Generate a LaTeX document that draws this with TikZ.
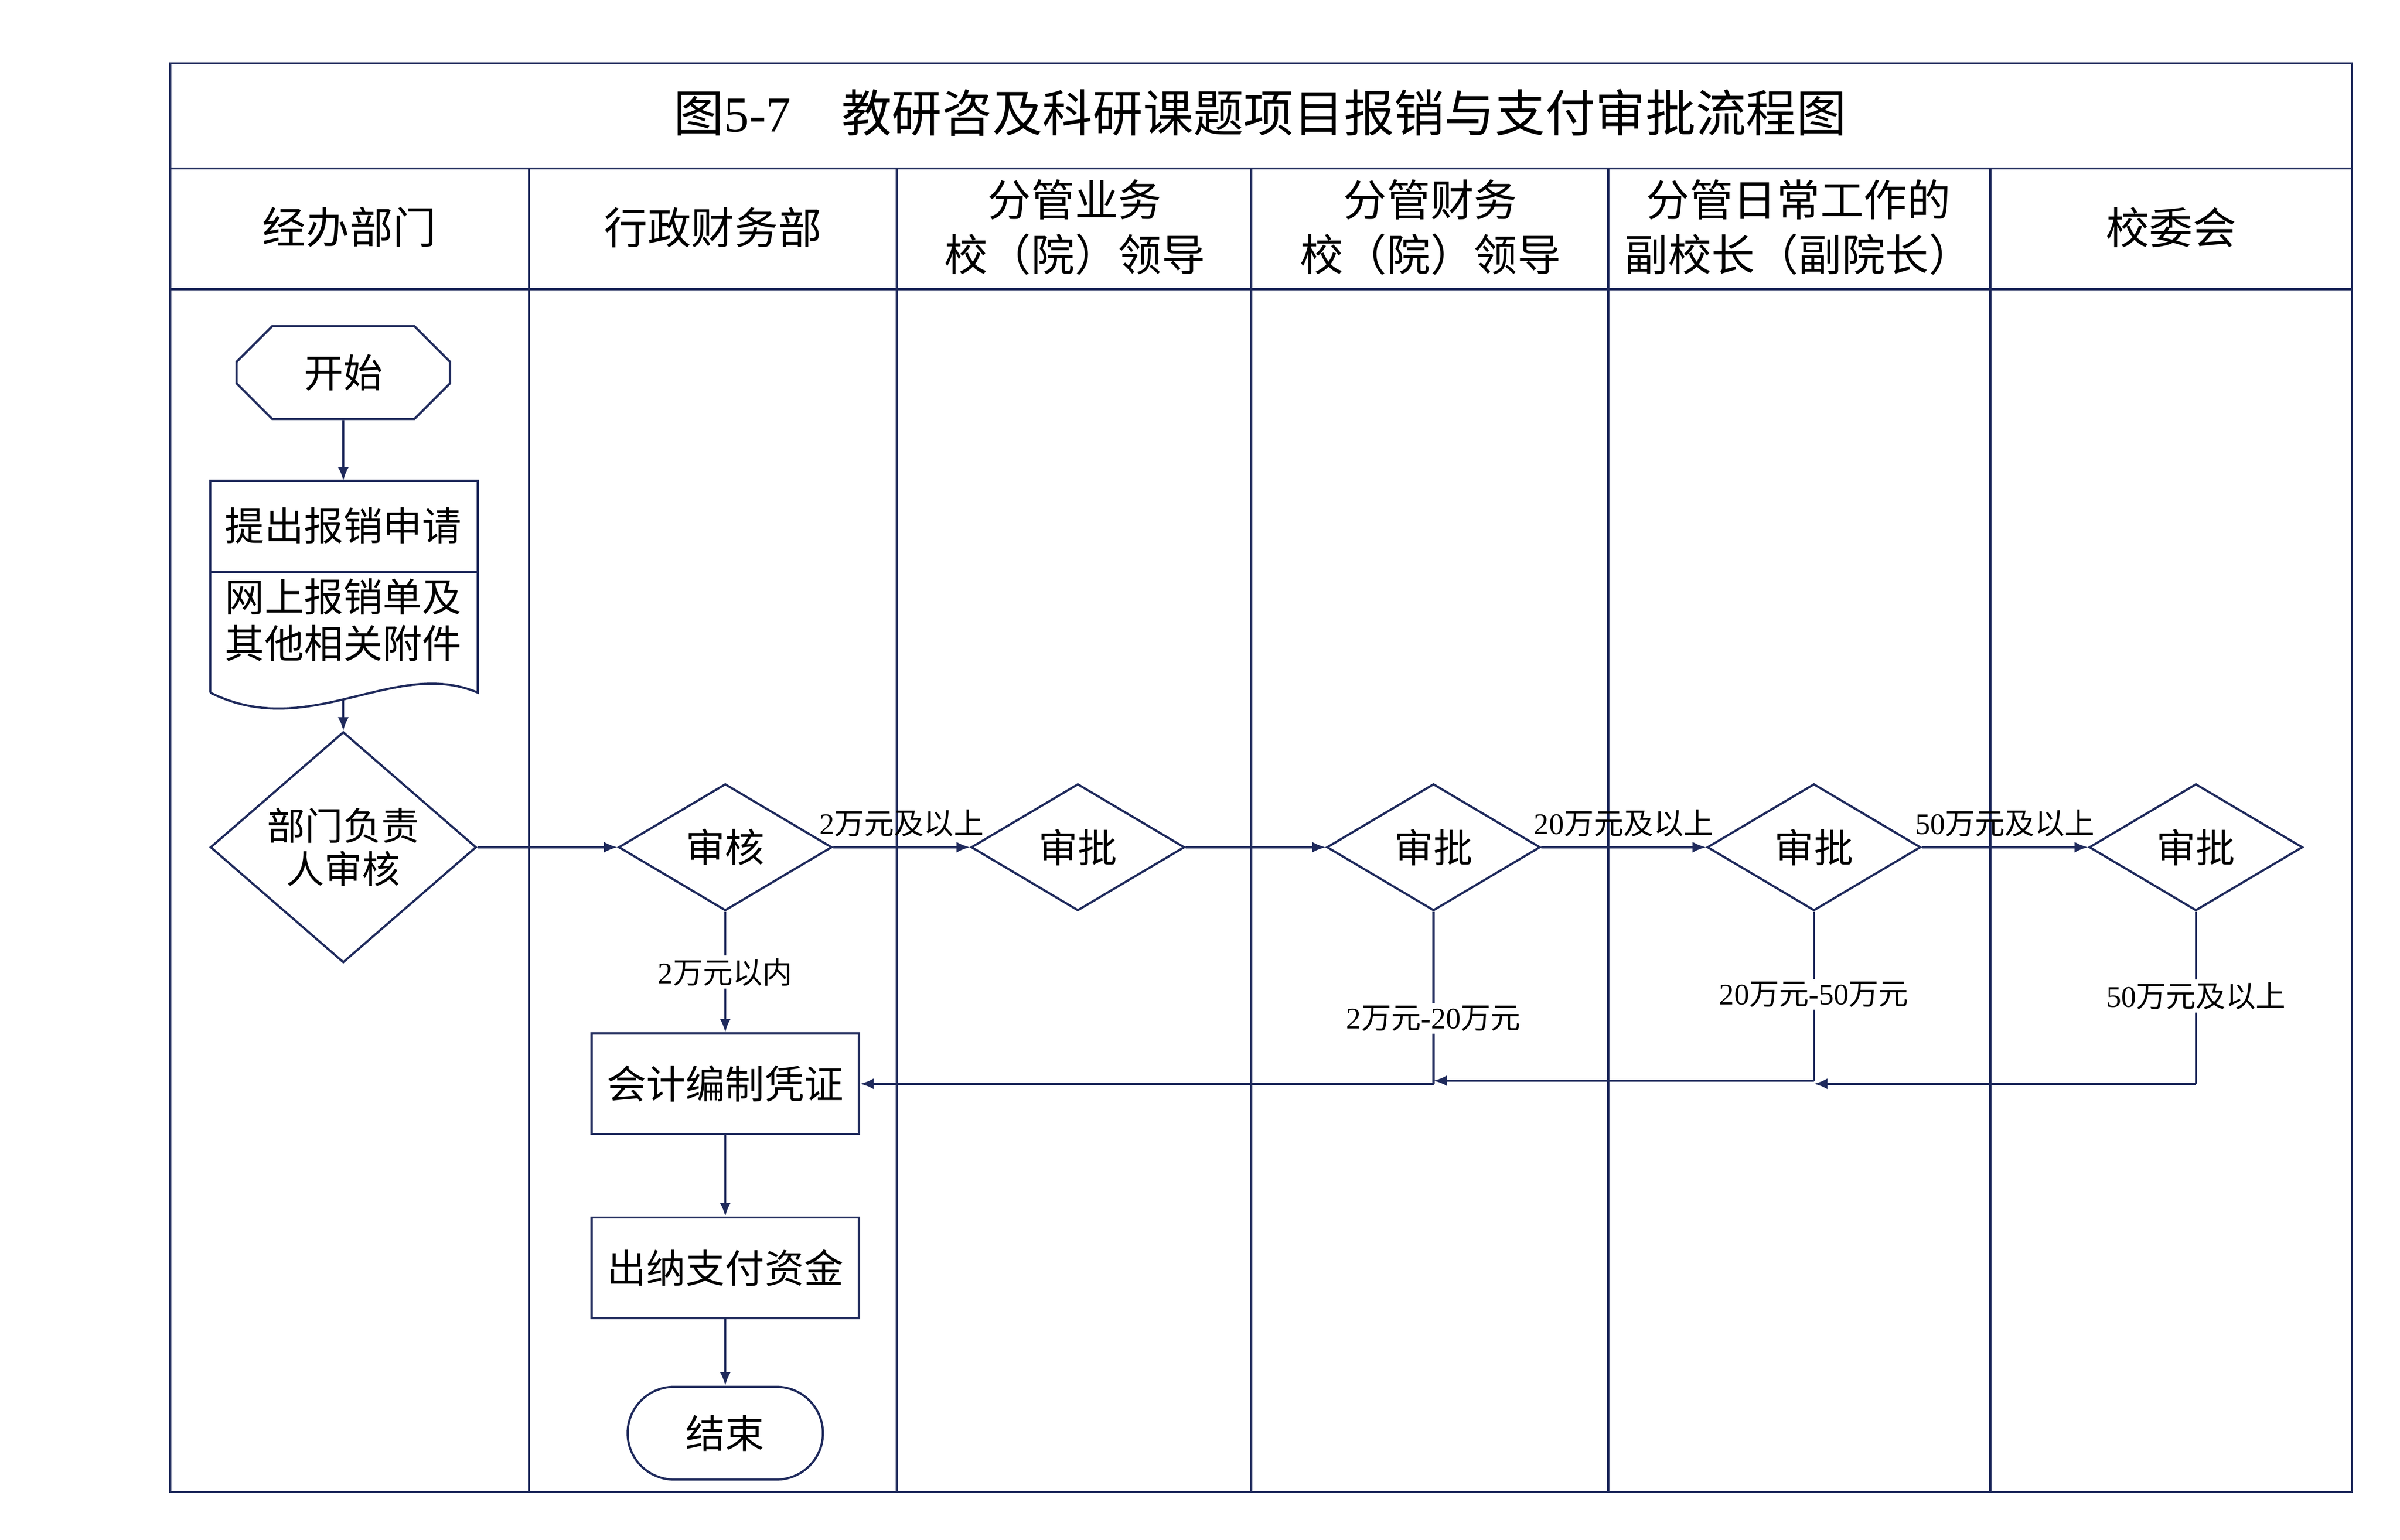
\documentclass[tikz,border=0pt]{standalone}
\usepackage{fontspec}
\setmainfont{Liberation Serif}
\newfontfamily\cjk{Noto Sans CJK SC}
\newfontfamily\lat{Liberation Serif}
\usetikzlibrary{shapes.geometric,shapes.misc,arrows.meta}
\definecolor{navy}{HTML}{1F2A5C}
\begin{document}
\begin{tikzpicture}[x=0.02cm,y=-0.02cm,
  ln/.style={draw=navy,line width=0.8pt},
  arr/.style={ln,-{Latex[length=5pt,width=4pt]}},
  box/.style={rectangle,ln,minimum width=173*0.02cm,minimum height=65*0.02cm,font=\cjk\fontsize{14.5}{17}\selectfont},
  hd/.style={font=\cjk\fontsize{16}{20}\selectfont,align=center},
  lbl/.style={fill=white,inner sep=1pt,font=\cjk\fontsize{11}{13}\selectfont}]
\useasboundingbox (0,0) rectangle (1552,996);
% frame
\draw[ln] (110,41) rectangle (1521,965);
\draw[ln] (110,109) -- (1521,109);
\draw[ln] (110,187) -- (1521,187);
\foreach \x in {342,580,809,1040,1287} \draw[ln] (\x,109) -- (\x,965);
\node[font=\cjk\fontsize{18.5}{22}\selectfont] (title) at (815,73) {图{\lat 5-7}\quad 教研咨及科研课题项目报销与支付审批流程图};
\node[hd] (h1) at (226,147) {经办部门};
\node[hd] (h2) at (461,147) {行政财务部};
\node[hd] (h3) at (695,147) {分管业务\\校（院）领导};
\node[hd] (h4) at (925,147) {分管财务\\校（院）领导};
\node[hd] (h5) at (1163,147) {分管日常工作的\\副校长（副院长）};
\node[hd] (h6) at (1404,147) {校委会};
% start
\node[chamfered rectangle,chamfered rectangle xsep=20*0.02cm,ln,minimum width=138*0.02cm,minimum height=60*0.02cm,font=\cjk\fontsize{14.5}{17}\selectfont] (start) at (222,241) {开始};
% document
\draw[ln] (136,448) -- (136,311) -- (309,311) -- (309,448) .. controls (255,425) and (200,480) .. (136,448);
\draw[ln] (136,370) -- (309,370);
\coordinate (doctop) at (222,311);
\coordinate (docbot) at (222,452);
\node[font=\cjk\fontsize{14.5}{17}\selectfont] (d1) at (222,340) {提出报销申请};
\node[font=\cjk\fontsize{14.5}{17}\selectfont,align=center] (d2) at (222,401) {网上报销单及\\其他相关附件};
% diamonds
\node[diamond,ln,minimum width=172*0.02cm,minimum height=116*0.02cm,inner sep=0pt,font=\cjk\fontsize{14}{16}\selectfont,align=center] (dm) at (222,548) {部门负责\\人审核};
\tikzset{dd/.style={diamond,ln,minimum width=138*0.02cm,minimum height=82*0.02cm,inner sep=0pt,font=\cjk\fontsize{14.5}{16}\selectfont}}
\node[dd] (sh) at (469,548) {审核};
\node[dd] (p1) at (697,548) {审批};
\node[dd] (p2) at (927,548) {审批};
\node[dd] (p3) at (1173,548) {审批};
\node[dd] (p4) at (1420,548) {审批};
\node[box] (kj) at (469,701) {会计编制凭证};
\node[box] (cn) at (469,820) {出纳支付资金};
\node[rounded rectangle,ln,minimum width=138*0.02cm,minimum height=60*0.02cm,font=\cjk\fontsize{14.5}{17}\selectfont] (end) at (469,927) {结束};
% connectors
\draw[arr] (start) -- (doctop);
\draw[arr] (docbot) -- (dm);
\draw[arr] (dm) -- (sh);
\draw[arr] (sh) -- node[above,font=\cjk\fontsize{11}{13}\selectfont,pos=0.5]{{\lat 2}万元及以上} (p1);
\draw[arr] (p1) -- (p2);
\draw[arr] (p2) -- node[above,font=\cjk\fontsize{11}{13}\selectfont]{{\lat 20}万元及以上} (p3);
\draw[arr] (p3) -- node[above,font=\cjk\fontsize{11}{13}\selectfont]{{\lat 50}万元及以上} (p4);
\draw[arr] (sh) -- node[lbl,pos=0.5]{{\lat 2}万元以内} (kj);
\draw[arr] (kj) -- (cn);
\draw[arr] (cn) -- (end);
\coordinate (c2) at (927,701);
\coordinate (c3) at (1173,699);
\coordinate (c4) at (1420,701);
\coordinate (m3) at (927,699);
\coordinate (m4) at (1173,701);
\draw[ln] (p2) -- node[lbl,pos=0.62]{{\lat 2}万元{\lat -20}万元} (c2);
\draw[arr] (c2) -- (kj.east);
\draw[ln] (p3) -- node[lbl,pos=0.49]{{\lat 20}万元{\lat -50}万元} (c3);
\draw[arr] (c3) -- (m3);
\draw[ln] (p4) -- node[lbl,pos=0.49]{{\lat 50}万元及以上} (c4);
\draw[arr] (c4) -- (m4);
\end{tikzpicture}
\end{document}
